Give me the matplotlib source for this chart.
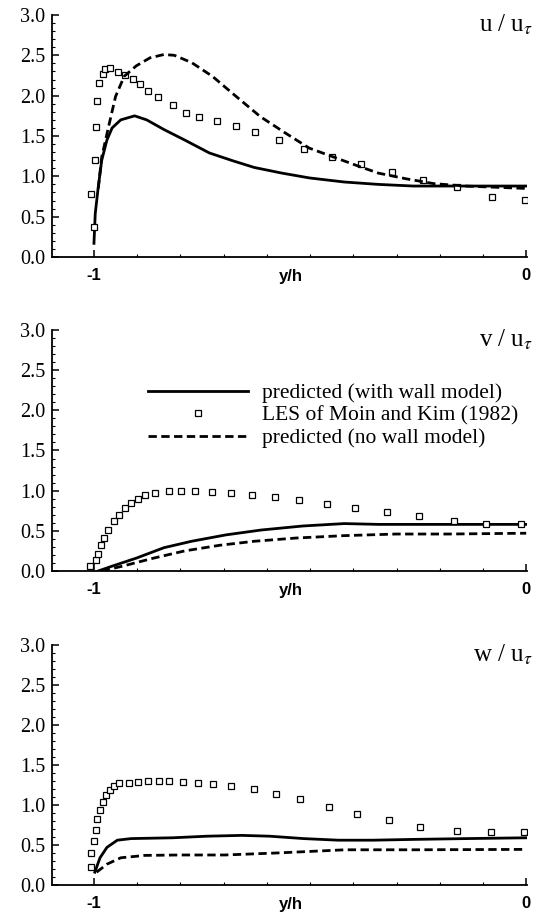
import numpy as np
import matplotlib.pyplot as plt
from matplotlib.ticker import MultipleLocator

plt.rcParams['font.family'] = ['Liberation Serif', 'DejaVu Serif']
plt.rcParams['mathtext.fontset'] = 'stix'

# u / u_tau
u_les_x = [-1.000, -1.006, -0.997, -0.996, -0.994, -0.988, -0.978, -0.974, -0.962, -0.944,
           -0.928, -0.910, -0.893, -0.874, -0.852, -0.818, -0.787, -0.758, -0.716, -0.672,
           -0.627, -0.573, -0.513, -0.449, -0.383, -0.311, -0.239, -0.159, -0.078, -0.002]
u_les_y = [0.37, 0.78, 1.20, 1.61, 1.94, 2.16, 2.27, 2.33, 2.34, 2.29,
           2.25, 2.21, 2.14, 2.06, 1.98, 1.88, 1.79, 1.73, 1.68, 1.62,
           1.55, 1.45, 1.34, 1.24, 1.15, 1.05, 0.95, 0.87, 0.75, 0.71]
u_wm_x = [-1.000, -0.997, -0.990, -0.982, -0.970, -0.958, -0.938, -0.906, -0.878, -0.838,
          -0.790, -0.733, -0.677, -0.629, -0.565, -0.501, -0.421, -0.341, -0.261, -0.180, 0.0]
u_wm_y = [0.17, 0.54, 0.87, 1.20, 1.45, 1.60, 1.70, 1.75, 1.70, 1.58,
          1.45, 1.29, 1.19, 1.11, 1.04, 0.98, 0.93, 0.90, 0.88, 0.88, 0.88]
u_nw_x = [-0.990, -0.982, -0.966, -0.950, -0.930, -0.902, -0.870, -0.838, -0.814, -0.774,
          -0.726, -0.671, -0.615, -0.558, -0.502, -0.446, -0.390, -0.342, -0.278, -0.214, -0.142, 0.0]
u_nw_y = [0.85, 1.24, 1.62, 1.99, 2.24, 2.37, 2.47, 2.51, 2.50, 2.41,
          2.24, 1.99, 1.74, 1.54, 1.35, 1.24, 1.13, 1.04, 0.97, 0.91, 0.88, 0.85]

# v / u_tau
v_les_x = [-1.010, -0.996, -0.990, -0.984, -0.976, -0.968, -0.954, -0.942, -0.928, -0.914,
           -0.898, -0.882, -0.858, -0.826, -0.798, -0.767, -0.727, -0.683, -0.635, -0.581,
           -0.525, -0.460, -0.395, -0.321, -0.248, -0.166, -0.092, -0.012]
v_les_y = [0.06, 0.14, 0.21, 0.32, 0.41, 0.51, 0.62, 0.70, 0.78, 0.85,
           0.90, 0.95, 0.97, 0.99, 1.00, 0.99, 0.98, 0.97, 0.95, 0.92,
           0.88, 0.83, 0.79, 0.73, 0.68, 0.62, 0.59, 0.59]
v_wm_x = [-0.990, -0.958, -0.902, -0.838, -0.774, -0.694, -0.613, -0.517, -0.421, -0.341, -0.261, 0.0]
v_wm_y = [0.00, 0.06, 0.16, 0.29, 0.37, 0.45, 0.51, 0.56, 0.59, 0.58, 0.58, 0.58]
v_nw_x = [-0.982, -0.934, -0.862, -0.790, -0.709, -0.629, -0.533, -0.421, -0.301, -0.180, 0.0]
v_nw_y = [0.00, 0.06, 0.16, 0.25, 0.32, 0.37, 0.41, 0.44, 0.46, 0.46, 0.47]

# w / u_tau
w_les_x = [-1.006, -1.006, -1.000, -0.995, -0.992, -0.986, -0.978, -0.971, -0.963, -0.954,
           -0.942, -0.920, -0.898, -0.875, -0.850, -0.826, -0.794, -0.760, -0.724, -0.684,
           -0.630, -0.579, -0.523, -0.457, -0.391, -0.318, -0.245, -0.161, -0.082, -0.006]
w_les_y = [0.22, 0.40, 0.55, 0.69, 0.82, 0.94, 1.04, 1.13, 1.19, 1.24,
           1.27, 1.28, 1.29, 1.30, 1.30, 1.30, 1.29, 1.27, 1.26, 1.24,
           1.20, 1.14, 1.07, 0.97, 0.89, 0.81, 0.73, 0.68, 0.66, 0.66]
w_wm_x = [-0.998, -0.986, -0.970, -0.946, -0.914, -0.818, -0.738, -0.658, -0.594, -0.515,
          -0.435, -0.355, -0.259, -0.138, 0.0]
w_wm_y = [0.16, 0.34, 0.47, 0.56, 0.58, 0.59, 0.61, 0.62, 0.61, 0.58,
          0.56, 0.56, 0.57, 0.58, 0.59]
w_nw_x = [-0.994, -0.970, -0.938, -0.882, -0.802, -0.698, -0.578, -0.419, -0.259, 0.0]
w_nw_y = [0.16, 0.26, 0.34, 0.37, 0.375, 0.375, 0.40, 0.44, 0.44, 0.445]

panels = [
    ('u', u_les_x, u_les_y, u_wm_x, u_wm_y, u_nw_x, u_nw_y),
    ('v', v_les_x, v_les_y, v_wm_x, v_wm_y, v_nw_x, v_nw_y),
    ('w', w_les_x, w_les_y, w_wm_x, w_wm_y, w_nw_x, w_nw_y),
]
boxes = [(0.0967, 0.7203, 0.883, 0.2634),
         (0.0967, 0.3787, 0.883, 0.2622),
         (0.0967, 0.0370, 0.883, 0.2612)]

fig = plt.figure(figsize=(5.38, 9.19), dpi=100)
sans_bold = dict(family=['Liberation Sans', 'DejaVu Sans'], weight='bold', size=12)

for i, (name, lx, ly, wx, wy, nx, ny) in enumerate(panels):
    ax = fig.add_axes(boxes[i])
    ax.plot(wx, wy, color='black', lw=2.0, label='predicted (with wall model)')
    ax.plot(lx, ly, ls='none', marker='s', ms=5, mfc='white', mec='black', mew=0.9,
            label='LES of Moin and Kim (1982)')
    ax.plot(nx, ny, color='black', lw=2.0, ls=(0, (3, 1.6)), label='predicted (no wall model)')
    ax.set_xlim(-1.097, 0.002)
    ax.set_ylim(0, 3.0)
    ax.spines['top'].set_visible(False)
    ax.spines['right'].set_visible(False)
    ax.spines['left'].set_linewidth(1.3)
    ax.spines['bottom'].set_linewidth(1.3)
    ax.set_xticks([-1, 0])
    ax.set_xticklabels(['-1', '0'], fontdict=sans_bold)
    ax.xaxis.set_minor_locator(MultipleLocator(0.1))
    ax.set_yticks(np.arange(0, 3.01, 0.5))
    ax.set_yticklabels(['%.1f' % t for t in np.arange(0, 3.01, 0.5)], fontsize=14.5)
    ax.yaxis.set_minor_locator(MultipleLocator(0.1))
    ax.tick_params(direction='in', length=5, width=1.1)
    ax.tick_params(axis='y', pad=5)
    ax.tick_params(axis='x', pad=8)
    ax.tick_params(which='minor', direction='in', length=2.5, width=0.8)
    ax.text(-0.544, -0.099, 'y/h', transform=ax.get_xaxis_transform(), ha='center',
            va='baseline', fontdict=sans_bold)
    ax.text(1.013, 0.959, name + r' / u$_{\tau}$', transform=ax.transAxes, ha='right',
            va='center', fontsize=18)
    if name == 'v':
        ax.legend(loc='upper left', bbox_to_anchor=(0.202, 0.78), frameon=False,
                  fontsize=15.5, handlelength=4.65, handletextpad=0.65, labelspacing=0.12,
                  markerscale=0.75, borderaxespad=0, borderpad=0)

fig.savefig('out.png', dpi=100)
